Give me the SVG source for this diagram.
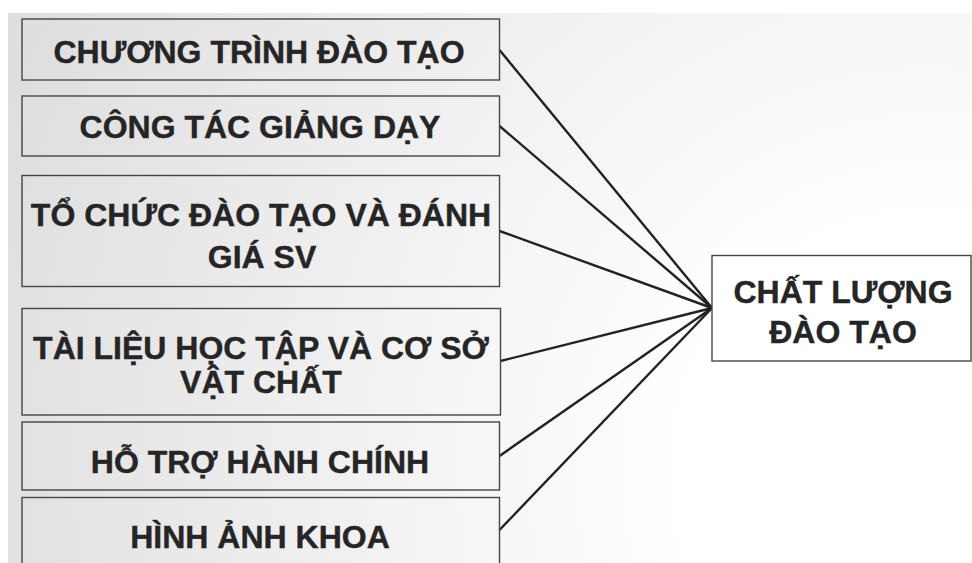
<svg xmlns="http://www.w3.org/2000/svg" width="972" height="563" viewBox="0 0 972 563">
  <defs>
    <radialGradient id="bg" cx="930" cy="470" r="1000" gradientUnits="userSpaceOnUse">
      <stop offset="0" stop-color="#ffffff"/>
      <stop offset="0.25" stop-color="#ffffff"/>
      <stop offset="0.6" stop-color="#f0f0f0"/>
      <stop offset="1" stop-color="#dedede"/>
    </radialGradient>
    <style>
      .box { fill: none; stroke: #454545; stroke-width: 1.4; }
      .label { font-family: "Liberation Sans", Arial, sans-serif; font-weight: bold; font-size: 32px; fill: #252525; stroke: #252525; stroke-width: 0.4; text-anchor: middle; }
      .link { stroke: #222222; stroke-width: 2.4; fill: none; }
    </style>
  </defs>

  <!-- page backdrop -->
  <rect x="0" y="0" width="972" height="563" fill="#ffffff"/>
  <rect x="8" y="13" width="964" height="550" fill="url(#bg)"/>

  <!-- connectors: every factor feeds the central node -->
  <g id="connectors">
    <line class="link" x1="499.5" y1="50" x2="712" y2="308"/>
    <line class="link" x1="499.5" y1="126" x2="712" y2="308"/>
    <line class="link" x1="499.5" y1="231" x2="712" y2="308"/>
    <line class="link" x1="500.5" y1="361" x2="712" y2="308"/>
    <line class="link" x1="499.5" y1="456" x2="712" y2="308"/>
    <line class="link" x1="499.5" y1="530" x2="712" y2="308"/>
  </g>

  <g id="node-chuong-trinh">
    <rect class="box" x="22" y="19" width="477.5" height="61"/>
    <text class="label" x="259" y="63">CHƯƠNG TRÌNH ĐÀO TẠO</text>
  </g>

  <g id="node-cong-tac">
    <rect class="box" x="22" y="96" width="477.5" height="60"/>
    <text class="label" x="260" y="138">CÔNG TÁC GIẢNG DẠY</text>
  </g>

  <g id="node-to-chuc">
    <rect class="box" x="22" y="175.5" width="477.5" height="111"/>
    <text class="label" x="261" y="226">TỔ CHỨC ĐÀO TẠO VÀ ĐÁNH</text>
    <text class="label" x="262" y="268">GIÁ SV</text>
  </g>

  <g id="node-tai-lieu">
    <rect class="box" x="22" y="308.5" width="478.5" height="106.5"/>
    <text class="label" x="261" y="359">TÀI LIỆU HỌC TẬP VÀ CƠ SỞ</text>
    <text class="label" x="261" y="393">VẬT CHẤT</text>
  </g>

  <g id="node-ho-tro">
    <rect class="box" x="22" y="422" width="477.5" height="68"/>
    <text class="label" x="260" y="473">HỖ TRỢ HÀNH CHÍNH</text>
  </g>

  <g id="node-hinh-anh">
    <rect class="box" x="22" y="497.5" width="477.5" height="70"/>
    <text class="label" x="260" y="548">HÌNH ẢNH KHOA</text>
  </g>

  <g id="node-chat-luong">
    <rect class="box" x="712" y="255.5" width="259" height="105.5" style="fill:#ffffff"/>
    <text class="label" x="843" y="303">CHẤT LƯỢNG</text>
    <text class="label" x="843" y="343">ĐÀO TẠO</text>
  </g>
</svg>
